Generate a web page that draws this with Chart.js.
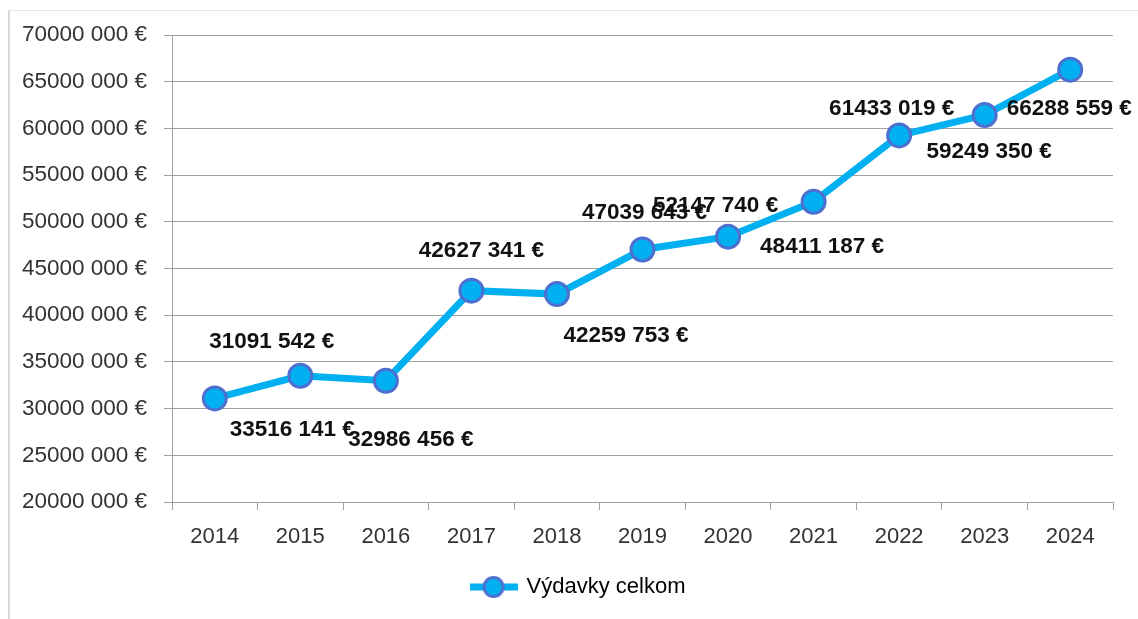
<!DOCTYPE html>
<html>
<head>
<meta charset="utf-8">
<script src="https://cdn.jsdelivr.net/npm/chart.js@4/dist/chart.umd.min.js"></script>
<style>
  html, body { margin: 0; padding: 0; background: #ffffff; }
  #wrap { position: relative; width: 1138px; height: 619px; }
  #frame { position: absolute; left: 8px; top: 10px; right: 0; bottom: 0;
           border-left: 2px solid #d9d9d9; border-top: 1px solid #e8e8e8; }
  #c { position: absolute; left: 0; top: 0; }
</style>
</head>
<body>
<div id="wrap">
  <div id="frame"></div>
  <canvas id="c" width="1138" height="619"></canvas>
</div>
<script>
// ---- data ----
const categories = ['2014','2015','2016','2017','2018','2019','2020','2021','2022','2023','2024'];
const seriesName = 'Výdavky celkom';
const values = [31091542, 33516141, 32986456, 42627341, 42259753, 47039643, 48411187, 52147740, 59249350, 61433019, 66288559];
const Y_MIN = 20000000, Y_MAX = 70000000, Y_STEP = 5000000;

// label offsets (px) relative to each point, as placed in the original
const labelDX = [57, -8, 25, 10, 69, 2, 94, -98, 90, -93, -1];
const labelDY = [-57, 54, 59, -40, 42, -37, 10, 4, 16, -6, 39];

const FONT = '"Liberation Sans", Arial, sans-serif';
const LINE_COLOR = '#00B0F0';
const MARKER_BORDER = '#4D6FCF';
const GRID = '#a0a0a0';
const TEXT = '#333333';

function fmt(v) {
  const s = String(Math.round(v));
  return s.slice(0, -3) + '\u00a0' + s.slice(-3) + ' €';
}

// legend symbol: line with marker
const sym = document.createElement('canvas');
sym.width = 48; sym.height = 26;
(function(){
  const g = sym.getContext('2d');
  g.strokeStyle = LINE_COLOR; g.lineWidth = 7;
  g.beginPath(); g.moveTo(0, 13); g.lineTo(48, 13); g.stroke();
  g.beginPath(); g.arc(24, 13, 9.5, 0, Math.PI * 2);
  g.fillStyle = LINE_COLOR; g.fill();
  g.lineWidth = 3; g.strokeStyle = MARKER_BORDER; g.stroke();
})();

const labelPlugin = {
  id: 'pointLabels',
  afterLayout(chart) {
    // centre the legend under the plot like the original
    if (chart.legend) { chart.legend.left += 22; chart.legend.right += 22; }
  },
  afterDatasetsDraw(chart) {
    const ctx = chart.ctx;
    const meta = chart.getDatasetMeta(0);
    ctx.save();
    ctx.font = 'bold 22.5px ' + FONT;
    ctx.fillStyle = '#111111';
    ctx.textAlign = 'center';
    ctx.textBaseline = 'middle';
    meta.data.forEach((pt, i) => {
      ctx.fillText(fmt(values[i]), pt.x + labelDX[i], pt.y + labelDY[i]);
    });
    ctx.restore();
  }
};

new Chart(document.getElementById('c'), {
  type: 'line',
  data: {
    labels: categories,
    datasets: [{
      label: seriesName,
      data: values,
      borderColor: LINE_COLOR,
      borderWidth: 7,
      tension: 0,
      pointRadius: 11.5,
      pointHoverRadius: 11.5,
      pointBorderWidth: 3,
      pointBorderColor: MARKER_BORDER,
      pointBackgroundColor: LINE_COLOR
    }]
  },
  options: {
    responsive: false,
    animation: false,
    events: [],
    layout: { padding: { left: 0, right: 25, top: 35, bottom: 11 } },
    plugins: {
      tooltip: { enabled: false },
      legend: {
        position: 'bottom',
        labels: {
          usePointStyle: true,
          pointStyleWidth: 44,
          padding: 10,
          color: TEXT,
          font: { family: FONT, size: 22 },
          generateLabels(chart) {
            return [{ text: seriesName, pointStyle: sym, fillStyle: LINE_COLOR,
                      strokeStyle: LINE_COLOR, lineWidth: 0, hidden: false, datasetIndex: 0 }];
          }
        }
      }
    },
    scales: {
      x: {
        offset: true,
        grid: { offset: true, drawOnChartArea: false, drawTicks: true, tickLength: 8, color: GRID },
        border: { color: GRID, width: 1 },
        ticks: { color: TEXT, font: { family: FONT, size: 22 }, padding: 14 },
        afterFit(scale) { scale.height = 64; }
      },
      y: {
        min: Y_MIN, max: Y_MAX,
        grid: { color: GRID, tickLength: 8 },
        border: { color: GRID, width: 1 },
        ticks: { stepSize: Y_STEP, color: TEXT, font: { family: FONT, size: 22.5 }, padding: 17,
                 callback: (v) => fmt(v) },
        afterFit(scale) { scale.width = 172; }
      }
    }
  },
  plugins: [labelPlugin]
});
</script>
</body>
</html>
